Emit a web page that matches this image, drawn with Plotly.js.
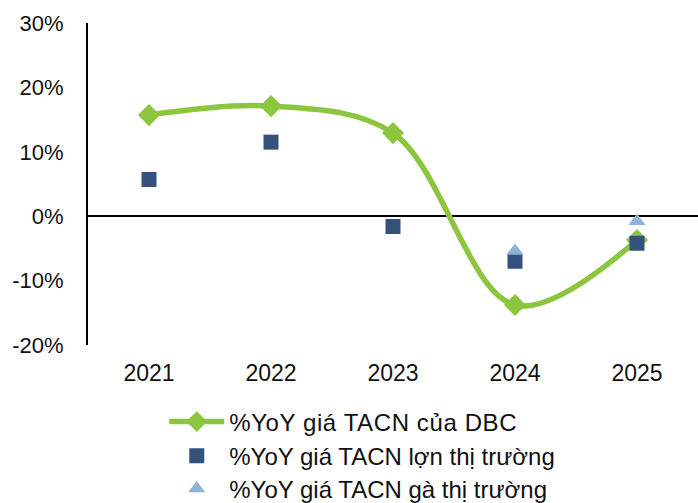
<!DOCTYPE html>
<html><head><meta charset="utf-8">
<script src="https://cdn.plot.ly/plotly-3.0.1.min.js"></script>
<style>html,body{margin:0;padding:0;background:#fff}#c{width:698px;height:503px}
.legendtext{letter-spacing:0.6px}</style>
</head><body><div id="c"></div>
<script>
const years = ["2021", "2022", "2023", "2024", "2025"];
const dbc = [15.7, 17.1, 12.9, -13.8, -3.7];
const pork = [5.7, 11.5, -1.6, -7.0, -4.2];
const chickenYears = ["2024", "2025"];
const chicken = [-5.4, -0.8];
const yTickVals = [-20, -10, 0, 10, 20, 30];
const yTickText = ["-20%", "-10%", "0%", "10%", "20%", "30%"];
const names = ["%YoY giá TACN của DBC", "%YoY giá TACN lợn thị trường", "%YoY giá TACN gà thị trường"];

const traces = [
  {x: years, y: dbc, name: names[0], type: "scatter", mode: "lines+markers", legend: "legend",
   line: {color: "#8CC63F", width: 5.5, shape: "spline", smoothing: 1},
   marker: {symbol: "diamond", size: 17, color: "#8CC63F"}},
  {x: years, y: pork, name: names[1], type: "scatter", mode: "markers", legend: "legend2",
   marker: {symbol: "square", size: 15, color: "#34527C"}},
  {x: chickenYears, y: chicken, name: names[2], type: "scatter", mode: "markers", legend: "legend3",
   marker: {symbol: "triangle-up", size: 15, color: "#8FB4D8"}}
];
const font = {family: "Liberation Sans, Arial, sans-serif", size: 22, color: "#111"};
const lfont = {family: "Liberation Sans, Arial, sans-serif", size: 24, color: "#111"};
function leg(y) {
  return {orientation: "v", x: 0.125, xanchor: "left", y: y, yanchor: "middle",
          font: lfont, itemwidth: 55, bgcolor: "rgba(0,0,0,0)"};
}
const layout = {
  width: 698, height: 503,
  margin: {l: 88, r: 0, t: 23, b: 158, autoexpand: false},
  paper_bgcolor: "#fff", plot_bgcolor: "#fff",
  font: font,
  showlegend: true,
  legend: leg(-0.239),
  legend2: leg(-0.345),
  legend3: leg(-0.447),
  xaxis: {type: "category", range: [-0.5, 4.5], showgrid: false, showline: false,
          zeroline: false, ticks: "", ticklabelstandoff: 12, automargin: false,
          tickfont: {family: font.family, size: 23, color: "#111"}, fixedrange: true},
  yaxis: {range: [-20, 30], tickvals: yTickVals, ticktext: yTickText, showgrid: false,
          showline: true, linecolor: "#000", linewidth: 2, ticks: "", automargin: false,
          zeroline: true, zerolinecolor: "#000", zerolinewidth: 2,
          tickfont: font, ticklabelstandoff: 18}
};
Plotly.newPlot("c", traces, layout, {displayModeBar: false, staticPlot: true});
</script></body></html>
